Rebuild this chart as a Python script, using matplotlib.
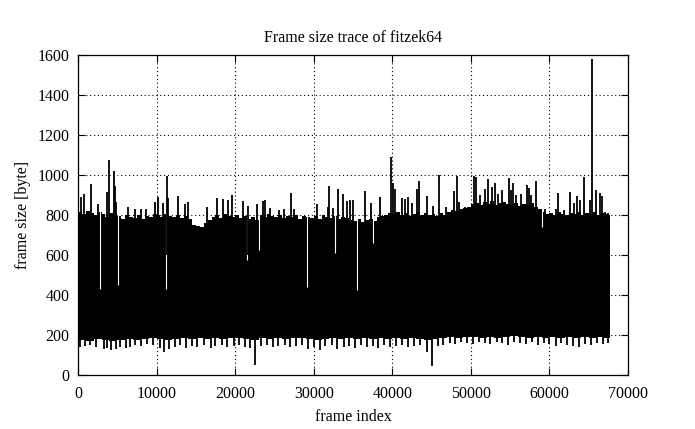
import numpy as np
import matplotlib
matplotlib.use("Agg")
import matplotlib.pyplot as plt

# ---------------- data ----------------
n_frames = 67700
top_bin = 500     # frames per upper-edge bin
bottom_bin = 1000  # frames per lower-edge bin

# dense part of the trace: upper edge per 500 frames (bytes)
band_top = [
    815, 805, 820, 810, 800, 815, 805, 790, 810, 800,
    795, 780, 800, 790, 785, 800, 780, 795, 790, 805,
    800, 790, 805, 795, 790, 800, 785, 795, 780, 750,
    745, 740, 760, 775, 790, 800, 785, 805, 795, 790,
    800, 785, 795, 780, 790, 775, 800, 790, 805, 795,
    790, 800, 785, 795, 790, 800, 780, 795, 790, 785,
    795, 780, 800, 790, 785, 795, 780, 790, 785, 775,
    770, 780, 765, 775, 780, 770, 790, 795, 800, 810,
    805, 815, 800, 810, 795, 805, 815, 800, 810, 800,
    805, 795, 810, 800, 815, 825, 820, 830, 835, 840,
    855, 860, 850, 865, 855, 870, 850, 860, 865, 855,
    850, 860, 845, 855, 850, 860, 840, 830, 815, 805,
    810, 800, 815, 805, 800, 810, 805, 815, 800, 810,
    805, 815, 800, 810, 805, 800,
]
# dense part of the trace: lower edge per 1000 frames (bytes)
band_bottom = [
    175, 170, 180, 175, 170, 175, 180, 175, 180, 185,
    180, 175, 180, 185, 180, 185, 180, 185, 180, 185,
    185, 180, 175, 185, 180, 185, 180, 185, 185, 180,
    175, 180, 185, 180, 185, 180, 185, 180, 185, 180,
    185, 180, 185, 180, 175, 180, 185, 190, 185, 190,
    190, 185, 190, 185, 190, 195, 190, 185, 190, 185,
    190, 185, 190, 185, 190, 185, 190, 185,
]

# large frames sticking out above the band (frame index, bytes)
peak_frames = [340, 760, 1610, 2500, 3730, 3945, 4580, 4750, 4850, 6400,
               7200, 8000, 8600, 9800, 10230, 10840, 11280, 11480, 12690, 13620,
               14040, 16380, 17650, 18410, 19130, 19600, 20960, 21680, 22740, 23590,
               23800, 24500, 25600, 26200, 27110, 27500, 30460, 31860, 31950, 32500,
               33090, 33680, 34200, 34620, 35040, 36530, 37300, 38440, 39800, 40150,
               40350, 41190, 41600, 42040, 42500, 43100, 43450, 44460, 45200, 45950,
               46900, 47860, 48200, 48500, 49300, 50400, 50700, 51200, 51800, 52230,
               52700, 53070, 53500, 54000, 54860, 55100, 55410, 55800, 56400, 57100,
               57400, 57700, 58290, 59500, 60800, 61140, 61900, 62620, 63100, 63470,
               63900, 64400, 65100, 65460, 65930, 66440, 66690, 67070, 67400]
peak_sizes = [892, 903, 955, 855, 917, 1073, 1020, 945, 867, 842,
              830, 832, 828, 867, 892, 862, 997, 883, 895, 855,
              865, 838, 883, 878, 875, 900, 868, 843, 855, 870,
              875, 835, 826, 830, 912, 830, 855, 838, 947, 835,
              928, 903, 870, 875, 875, 922, 860, 892, 1090, 958,
              928, 887, 878, 892, 860, 928, 970, 895, 845, 1000,
              840, 922, 995, 867, 840, 993, 990, 900, 932, 980,
              940, 958, 905, 925, 983, 925, 958, 900, 905, 950,
              935, 900, 972, 830, 830, 912, 825, 917, 858, 895,
              875, 992, 875, 1580, 925, 908, 895, 815, 810]

# small frames reaching below the band (frame index, bytes)
low_frames = [300, 900, 1500, 2300, 3300, 3700, 4200, 4800, 5400, 6100,
              6600, 7300, 8000, 8800, 9500, 10500, 11000, 11600, 12300, 13000,
              13800, 14500, 15200, 16000, 16900, 17500, 18300, 19000, 19800, 20500,
              21200, 21900, 22530, 23300, 24000, 24800, 25500, 26300, 27000, 27800,
              28500, 29300, 30100, 30800, 31500, 32300, 33000, 33800, 34500, 35300,
              36000, 36800, 37500, 38200, 39000, 39700, 40500, 41300, 42000, 42800,
              43500, 44460, 45100, 45800, 46500, 47300, 48000, 48800, 49500, 50300,
              51000, 51800, 52500, 53300, 54000, 54700, 55500, 56200, 57000, 57800,
              58500, 59300, 60000, 60800, 61500, 62300, 63000, 63800, 64500, 65300,
              66000, 66800, 67500]
low_sizes = [140, 145, 150, 140, 130, 135, 125, 130, 140, 135,
             140, 150, 145, 155, 150, 135, 117, 130, 140, 150,
             135, 145, 140, 150, 135, 145, 150, 140, 145, 150,
             140, 135, 50, 145, 150, 140, 145, 150, 140, 145,
             150, 130, 140, 125, 145, 150, 130, 140, 145, 135,
             150, 140, 145, 135, 150, 140, 145, 150, 140, 145,
             150, 117, 45, 145, 150, 160, 155, 165, 160, 155,
             165, 160, 155, 165, 160, 150, 165, 160, 155, 165,
             150, 160, 155, 145, 160, 150, 145, 140, 155, 150,
             160, 155, 160]

# pixel columns where the trace stays low (white gaps in the band)
gap_frames = [2800, 5050, 11160, 21470, 23080, 29190, 32710, 35470, 37590, 59010]
gap_tops = [430, 450, 430, 575, 625, 440, 610, 425, 660, 740]

title = "Frame size trace of fitzek64"
xlab = "frame index"
ylab = "frame size [byte]"
xticks = [0, 10000, 20000, 30000, 40000, 50000, 60000, 70000]
yticks = [0, 200, 400, 600, 800, 1000, 1200, 1400, 1600]

# ---------------- plot ----------------
plt.rcParams['font.family'] = ['Liberation Serif', 'DejaVu Serif']

fig = plt.figure(figsize=(6.95, 4.29), dpi=100)
ax = fig.add_axes([0.1122, 0.1259, 0.7914, 0.7459])

# upper part of band (from 500 bytes up to the ragged top)
e_top = np.minimum(np.arange(len(band_top) + 1) * top_bin, n_frames)
ax.fill_between(e_top, 500, np.append(band_top, band_top[-1]), step='post',
                color='black', linewidth=0, zorder=2)
# lower part of band (from the ragged bottom up to 500 bytes)
e_bot = np.minimum(np.arange(len(band_bottom) + 1) * bottom_bin, n_frames)
ax.fill_between(e_bot, np.append(band_bottom, band_bottom[-1]), 505, step='post',
                color='black', linewidth=0, zorder=2)

ax.vlines(peak_frames, 600, peak_sizes, color='black', linewidth=1.3, zorder=4)
ax.vlines(low_frames, low_sizes, 400, color='black', linewidth=1.3, zorder=4)
ax.vlines(gap_frames, gap_tops, 1000, color='white', linewidth=0.8, zorder=3)

ax.set_xlim(0, 70000)
ax.set_ylim(0, 1600)
ax.set_xticks(xticks)
ax.set_yticks(yticks)
ax.set_xticklabels([str(t) for t in xticks])
ax.set_yticklabels([str(t) for t in yticks])

ax.grid(True, color='black', linestyle=(0, (1, 2.5)), linewidth=0.8)
ax.set_axisbelow(True)
ax.tick_params(direction='in', length=5, width=0.8, top=True, right=True,
               labelsize=11.5, colors='black')
ax.tick_params(axis='x', pad=8)
ax.tick_params(axis='y', pad=6)
for s in ax.spines.values():
    s.set_linewidth(0.9)
    s.set_zorder(5)

ax.set_title(title, fontsize=11.5, pad=9)
ax.set_xlabel(xlab, fontsize=11.5, labelpad=5)
ax.set_ylabel(ylab, fontsize=11.5, labelpad=5)

fig.savefig("out.png", dpi=100)
